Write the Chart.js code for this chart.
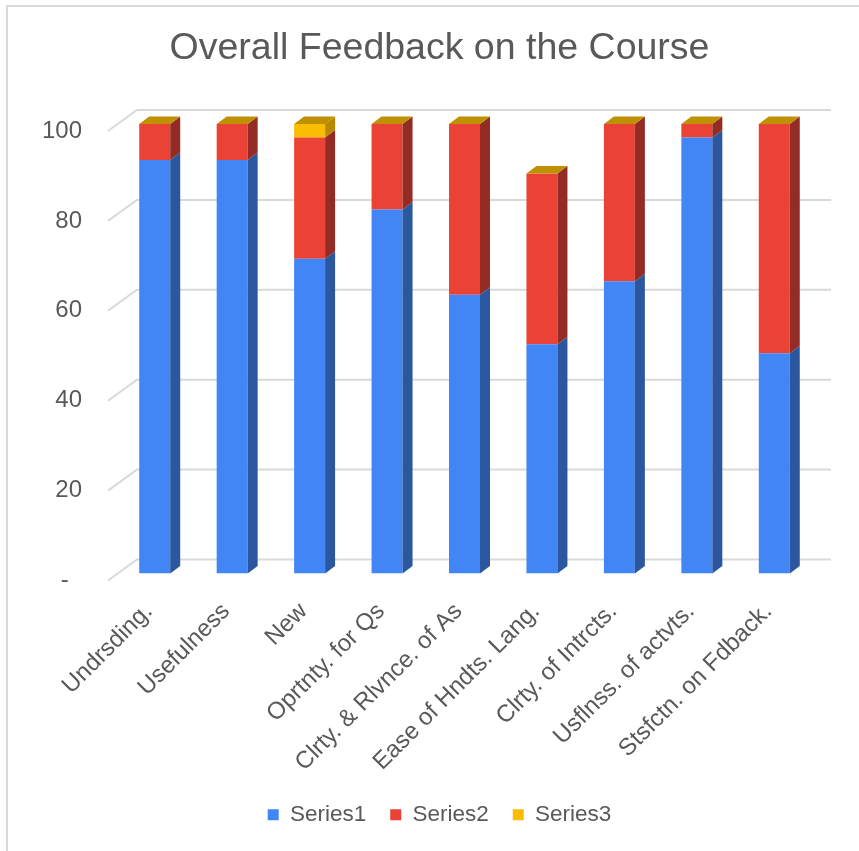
<!DOCTYPE html>
<html>
<head>
<meta charset="utf-8">
<script src="https://cdn.jsdelivr.net/npm/chart.js@4"></script>
<style>
  html, body { margin: 0; padding: 0; background: #fff; }
  #wrap { width: 859px; height: 851px; position: relative; }
</style>
</head>
<body>
<div id="wrap"><canvas id="chart-feedback" width="859" height="851"></canvas></div>
<script>
categories = [
    'Undrsding.', 'Usefulness', 'New', 'Oprtnty. for Qs', 'Clrty. & Rlvnce. of As',
    'Ease of Hndts. Lang.', 'Clrty. of Intrcts.', 'Usflnss. of actvts.', 'Stsfctn. on Fdback.'
]
series1 = [92, 92, 70, 81, 62, 51, 65, 97, 49]
series2 = [8, 8, 27, 19, 38, 38, 35, 3, 51]
series3 = [0, 0, 3, 0, 0, 0, 0, 0, 0]
y_ticks = [0, 20, 40, 60, 80, 100]

front_colors = ['#4285f4', '#ea4335', '#fbbc04']
side_colors = ['#2b579e', '#952b25', '#b98a00']
top_color = '#bf9000'
grid_color = '#d9d9d9'
text_color = '#595959'
font_family = '"Liberation Sans", Arial, sans-serif'

depth_x = 10
depth_y = 7.5

// fake 3d: side faces, top cap and back wall grid
const bars3d = {
    id: 'bars3d',
    beforeDraw(chart) {
        const ctx = chart.ctx
        ctx.save()
        ctx.strokeStyle = grid_color
        ctx.lineWidth = 2
        ctx.beginPath()
        ctx.moveTo(7, 851)
        ctx.lineTo(7, 6)
        ctx.lineTo(859, 6)
        ctx.stroke()
        ctx.restore()
    },
    beforeDatasetsDraw(chart) {
        const ctx = chart.ctx
        const y = chart.scales.y
        const area = chart.chartArea
        ctx.save()
        ctx.strokeStyle = grid_color
        ctx.lineWidth = 2
        y_ticks.forEach(v => {
            const py = y.getPixelForValue(v)
            ctx.beginPath()
            ctx.moveTo(area.left - 8, py + 7)
            ctx.lineTo(area.left + 21, py - 14)
            ctx.lineTo(area.right + 18, py - 14)
            ctx.stroke()
        })
        ctx.restore()
    },
    afterDatasetsDraw(chart) {
        const ctx = chart.ctx
        ctx.save()
        chart.data.datasets.forEach((ds, i) => {
            const meta = chart.getDatasetMeta(i)
            meta.data.forEach(el => {
                const p = el.getProps(['x', 'y', 'base', 'width'], true)
                if (p.base - p.y < 0.5) return
                const r = p.x + p.width / 2
                ctx.fillStyle = side_colors[i]
                ctx.beginPath()
                ctx.moveTo(r, p.y)
                ctx.lineTo(r + depth_x, p.y - depth_y)
                ctx.lineTo(r + depth_x, p.base - depth_y)
                ctx.lineTo(r, p.base)
                ctx.closePath()
                ctx.fill()
            })
        })
        // top cap of every stack
        const last = chart.getDatasetMeta(chart.data.datasets.length - 1)
        last.data.forEach(el => {
            const p = el.getProps(['x', 'y', 'width'], true)
            const l = p.x - p.width / 2
            const r = p.x + p.width / 2
            ctx.fillStyle = top_color
            ctx.beginPath()
            ctx.moveTo(l, p.y)
            ctx.lineTo(r, p.y)
            ctx.lineTo(r + depth_x, p.y - depth_y)
            ctx.lineTo(l + depth_x, p.y - depth_y)
            ctx.closePath()
            ctx.fill()
        })
        ctx.restore()
    }
}

function make_dataset(label, values, idx) {
    return {
        label: label,
        data: values,
        backgroundColor: front_colors[idx],
        borderWidth: 0,
        barPercentage: 0.4,
        categoryPercentage: 1.0
    }
}

const data = {
    labels: categories,
    datasets: [
        make_dataset('Series1', series1, 0),
        make_dataset('Series2', series2, 1),
        make_dataset('Series3', series3, 2)
    ]
}

feedback_chart = new Chart(
    document.getElementById('chart-feedback').getContext('2d'), {
        type: 'bar',
        data: data,
        plugins: [bars3d],
        options: {
            responsive: false,
            animation: false,
            layout: {
                padding: { top: 0, left: 20, right: 0, bottom: 15 }
            },
            plugins: {
                title: {
                    display: true,
                    text: 'Overall Feedback on the Course',
                    color: text_color,
                    font: { family: font_family, size: 37.5, weight: 'normal' },
                    padding: { top: 26, bottom: 53 }
                },
                legend: {
                    position: 'bottom',
                    labels: {
                        color: text_color,
                        font: { family: font_family, size: 22.5 },
                        boxWidth: 11,
                        boxHeight: 11,
                        padding: 24
                    }
                },
                tooltip: { enabled: false }
            },
            scales: {
                x: {
                    stacked: true,
                    grid: { display: false },
                    border: { display: false },
                    ticks: {
                        color: text_color,
                        font: { family: font_family, size: 24 },
                        maxRotation: 45,
                        minRotation: 45,
                        padding: 16,
                        labelOffset: -6,
                        autoSkip: false
                    },
                    afterFit: scale => { scale.height = 206 }
                },
                y: {
                    stacked: true,
                    min: 0,
                    max: 100,
                    grid: { display: false, drawTicks: false },
                    border: { display: false },
                    ticks: {
                        stepSize: 20,
                        color: text_color,
                        font: { family: font_family, size: 24 },
                        padding: 34,
                        labelOffset: 7,
                        callback: v => v === 0 ? '-  ' : v
                    },
                    afterFit: scale => { scale.width = 96 }
                },
                // empty right axis, only keeps space at the right of the plot
                y2: {
                    position: 'right',
                    min: 0,
                    max: 100,
                    grid: { display: false, drawTicks: false },
                    border: { display: false },
                    ticks: { display: false },
                    afterFit: scale => { scale.width = 46 }
                }
            }
        }
    })
</script>
</body>
</html>
